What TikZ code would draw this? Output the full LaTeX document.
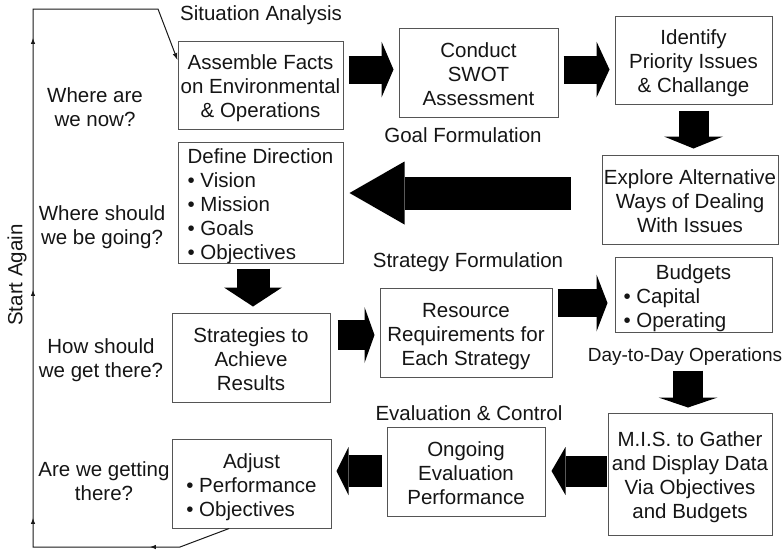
\documentclass[tikz,border=0pt]{standalone}
\usepackage{fontspec}
\setmainfont{Liberation Sans}
\usetikzlibrary{arrows.meta,calc,decorations.markings}

\definecolor{boxgray}{HTML}{555555}
\definecolor{inkblack}{HTML}{151515}

% box text: lines stacked in a tabular and set a little below the optical centre
\newcommand{\lowerlines}[2][c]{%
  \raisebox{-4pt}[\height][\depth]{\begin{tabular}{@{}#1@{}}#2\end{tabular}}}

\begin{document}
\begin{tikzpicture}[x=1pt,y=-1pt,
  font=\fontsize{20.5}{24}\selectfont,
  box/.style={draw=boxgray, line width=1pt, inner sep=0pt, align=center, text=inkblack},
  lbl/.style={inner sep=0pt, align=center, text=inkblack},
  barrow/.style n args={3}{draw=black, line width=#1, line cap=butt,
    -{Triangle[length=#3, width=#2, line width=0pt]}},
  loopline/.style={draw=black!90, line width=1pt}
]
\useasboundingbox (0,0) rectangle (784,550);

% process boxes
\node[box, minimum width=165pt, minimum height=88pt] (asm) at (260.5,85)
  {\lowerlines{Assemble Facts\\on Environmental\\\& Operations}};
\node[box, minimum width=159pt, minimum height=89pt] (swot) at (478.5,72.5)
  {\lowerlines{Conduct\\SWOT\\Assessment}};
\node[box, minimum width=157pt, minimum height=88pt] (ident) at (693.5,60)
  {\lowerlines{Identify\\Priority Issues\\\& Challange}};
\node[box, minimum width=176pt, minimum height=89pt] (explore) at (690,199.5)
  {\lowerlines{Explore Alternative\\Ways of Dealing\\With Issues}};
\node[box, minimum width=165pt, minimum height=121pt] (define) at (260.5,202.5)
  {\lowerlines[l]{Define Direction\\• Vision\\• Mission\\• Goals\\• Objectives}};
\node[box, minimum width=158pt, minimum height=89pt] (strat) at (251,357.5)
  {\lowerlines{Strategies to\\Achieve\\Results}};
\node[box, minimum width=172pt, minimum height=89pt] (resource) at (466,332.5)
  {\lowerlines{Resource\\Requirements for\\Each Strategy}};
\node[box, minimum width=157pt, minimum height=75pt] (budgets) at (693.5,294.5)
  {\lowerlines[p{140pt}]{\multicolumn{1}{@{}c@{}}{Budgets}\\• Capital\\• Operating}};
\node[box, minimum width=164pt, minimum height=122pt] (mis) at (690,474)
  {\lowerlines{M.I.S. to Gather\\and Display Data\\Via Objectives\\and Budgets}};
\node[box, minimum width=158pt, minimum height=89pt] (ongoing) at (466,471.5)
  {\lowerlines{Ongoing\\Evaluation\\Performance}};
\node[box, minimum width=159pt, minimum height=89pt] (adjust) at (251.5,483.5)
  {\lowerlines[l]{\multicolumn{1}{@{}c@{}}{Adjust}\\• Performance\\• Objectives}};

% stage headings
\node[lbl] (sitan) at (261,15) {Situation Analysis};
\node[lbl] (goalf) at (463,135) {Goal Formulation};
\node[lbl] (stratf) at (468,262) {Strategy Formulation};
\node[lbl, font=\fontsize{19}{22}\selectfont] (daily) at (685,357) {Day-to-Day Operations};
\node[lbl] (evalc) at (469,413) {Evaluation \& Control};

% guiding questions
\node[lbl] (q1) at (95,107) {Where are\\we now?};
\node[lbl] (q2) at (102,227) {Where should\\we be going?};
\node[lbl] (q3) at (101,360) {How should\\we get there?};
\node[lbl] (q4) at (104,481) {Are we getting\\there?};
\node[lbl, rotate=90] (again) at (17,275) {Start Again};

% block arrows between the steps
\draw[barrow={28pt}{56pt}{12pt}] ($(asm.east |- swot.west)+(5,-3)$) -- ($(swot.west)+(-5,-3)$);
\draw[barrow={28pt}{56pt}{13pt}] ($(swot.east)+(5,-3)$) -- ($(ident.west |- swot.east)+(-5,-3)$);
\draw[barrow={30pt}{59pt}{12pt}] ($(ident.south)+(0,6)$) -- ($(explore.north -| ident.south)+(0,-6)$);
\draw[barrow={33pt}{63pt}{55pt}] ($(explore.west)+(-31,-6.5)$) -- ($(define.east)+(6,-9.5)$);
\draw[barrow={33pt}{58pt}{19pt}] ($(define.south)+(-7.5,5)$) -- ($(strat.north)+(2,-6)$);
\draw[barrow={30pt}{56pt}{10pt}] ($(strat.east)+(7,-22.5)$) -- ($(resource.west)+(-5,2.5)$);
\draw[barrow={28pt}{57pt}{11pt}] ($(resource.east)+(5,-29.5)$) -- ($(budgets.west)+(-7,8.5)$);
\draw[barrow={30pt}{59pt}{10pt}] ($(budgets.south)+(-5.5,38)$) -- ($(mis.north)+(-2,-5)$);
\draw[barrow={31pt}{48pt}{14pt}] ($(mis.west)+(-1,-3)$) -- ($(ongoing.east)+(6,-0.5)$);
\draw[barrow={32pt}{48pt}{12pt}] ($(ongoing.west)+(-5,-0.5)$) -- ($(adjust.east)+(5,-12.5)$);

% feedback loop from adjusting back to the situation analysis
\coordinate (adjfoot) at ($(adjust.south west)!0.36!(adjust.south east)$);
\coordinate (asmentry) at ($(asm.north west)!0.22!(asm.south west)$);
\coordinate (loopB) at (180,547);
\coordinate (loopBL) at (33,547);
\coordinate (loopTL) at (33,9);
\coordinate (loopT) at (158,9);
\draw[loopline, -{Latex[length=7pt,width=5pt]},
  postaction={decorate},
  decoration={markings,
    mark=at position 82.6pt with {\arrow{Latex[length=6pt,width=4.5pt]}},
    mark=at position 228.6pt with {\arrow{Latex[length=6pt,width=4.5pt]}},
    mark=at position 456.6pt with {\arrow{Latex[length=6pt,width=4.5pt]}},
    mark=at position 708.6pt with {\arrow{Latex[length=6pt,width=4.5pt]}}}]
  (adjfoot) -- (loopB) -- (loopBL) -- (loopTL) -- (loopT) -- (asmentry);

\end{tikzpicture}
\end{document}
